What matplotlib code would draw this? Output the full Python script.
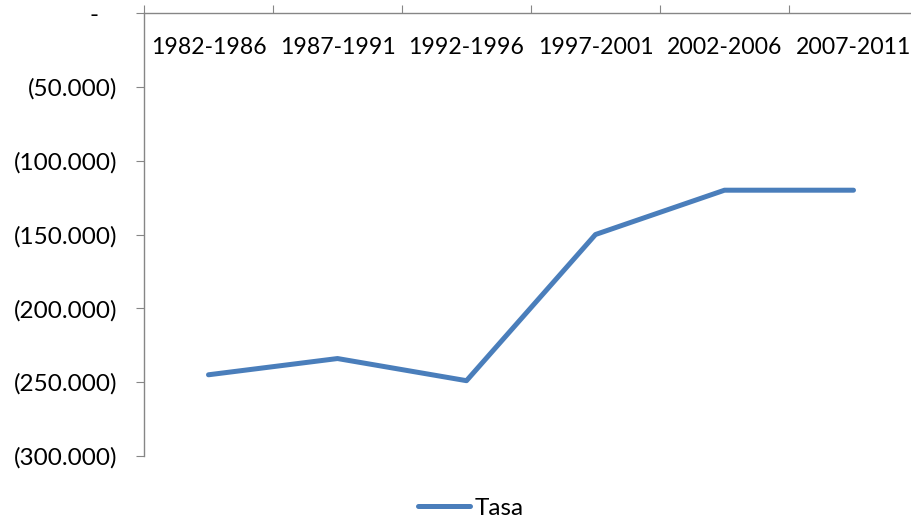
import matplotlib.pyplot as plt
from matplotlib.ticker import FuncFormatter

periods = ["1982-1986", "1987-1991", "1992-1996", "1997-2001", "2002-2006", "2007-2011"]
tasa = [-245000, -234000, -249000, -150000, -120000, -120000]
y_ticks = [0, -50000, -100000, -150000, -200000, -250000, -300000]

plt.rcParams["font.family"] = ["Lato", "DejaVu Sans"]

fig = plt.figure(figsize=(9.12, 5.21), dpi=100)
ax = fig.add_axes([144 / 912, 1 - 456 / 521, 774 / 912, 443 / 521])

x = list(range(len(periods)))
ax.plot(x, tasa, color="#4A7EBB", linewidth=3.6, solid_capstyle="round", label="Tasa")

ax.set_xlim(-0.5, len(periods) - 0.5)
ax.set_ylim(-300000, 0)

# category axis sits at zero (the top), labels underneath like Excel
ax.spines["bottom"].set_position(("data", 0))
ax.spines["top"].set_visible(False)
ax.spines["right"].set_visible(False)
for s in ("bottom", "left"):
    ax.spines[s].set_color("#868686")
    ax.spines[s].set_linewidth(1.0)

ax.set_xticks([i - 0.5 for i in range(len(periods) + 1)])
ax.set_xticklabels([])
ax.set_xticks(x, minor=True)
ax.set_xticklabels(periods, minor=True)
ax.tick_params(axis="x", which="major", direction="in", length=6, color="#868686")
ax.tick_params(axis="x", which="minor", length=0, pad=17, labelsize=16.6)


def fmt(v, pos):
    if v == 0:
        return "-   "
    return "({:,.0f})".format(abs(v)).replace(",", ".")


ax.set_yticks(y_ticks)
ax.yaxis.set_major_formatter(FuncFormatter(fmt))
ax.tick_params(axis="y", direction="out", length=6, color="#868686", labelsize=17.5, pad=13)

fig.legend(loc="center", bbox_to_anchor=(471 / 912, 1 - 508 / 521), frameon=False,
           fontsize=17.5, handlelength=2.1, handletextpad=0.2)

fig.savefig("out.png", dpi=100)
